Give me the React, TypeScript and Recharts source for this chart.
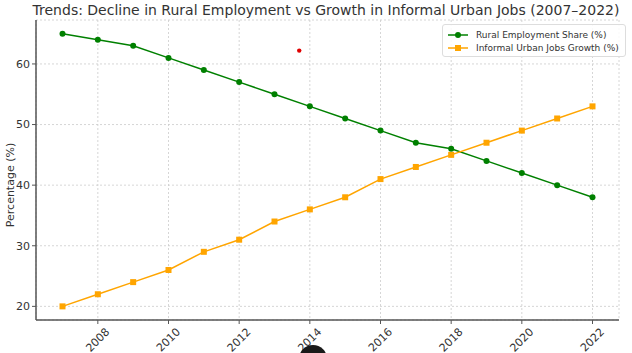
import React from 'react';
import {
  ComposedChart,
  Line,
  Scatter,
  XAxis,
  YAxis,
  CartesianGrid,
} from 'recharts';

const years = [2007, 2008, 2009, 2010, 2011, 2012, 2013, 2014, 2015, 2016, 2017, 2018, 2019, 2020, 2021, 2022];
const ruralShare = [65, 64, 63, 61, 59, 57, 55, 53, 51, 49, 47, 46, 44, 42, 40, 38];
const urbanInformal = [20, 22, 24, 26, 29, 31, 34, 36, 38, 41, 43, 45, 47, 49, 51, 53];
const xTicks = [2008, 2010, 2012, 2014, 2016, 2018, 2020, 2022];
const yTicks = [20, 30, 40, 50, 60];
const strayPoint = [{ year: 2013.7, stray: 62.2 }];

const GREEN = '#008000';
const ORANGE = '#FFA500';
const FONT = '"DejaVu Sans", sans-serif';

const chartData = years.map((year, i) => ({
  year,
  rural: ruralShare[i],
  urban: urbanInformal[i],
}));

// rotated year labels, centred under the tick like matplotlib's rotation=45
const XTick = ({ x, y, payload }: any) => {
  const cy = y + 14;
  return (
    <text
      x={x}
      y={cy}
      transform={`rotate(-45, ${x}, ${cy})`}
      textAnchor="middle"
      dominantBaseline="central"
      fontSize={11}
      fontFamily={FONT}
      fill="#333"
    >
      {payload.value}
    </text>
  );
};

const SquareDot = ({ cx, cy }: any) => {
  if (cx == null || cy == null) return null;
  return <rect x={cx - 3} y={cy - 3} width={6} height={6} fill={ORANGE} />;
};

const RedDot = ({ cx, cy }: any) => <circle cx={cx} cy={cy} r={2.2} fill="#e00000" />;

const LegendBox = () => {
  const items = [
    { label: 'Rural Employment Share (%)', color: GREEN, square: false },
    { label: 'Informal Urban Jobs Growth (%)', color: ORANGE, square: true },
  ];
  return (
    <div
      style={{
        position: 'absolute',
        left: 442,
        top: 24,
        border: '1px solid #ddd',
        borderRadius: 3,
        background: 'rgba(255,255,255,0.85)',
        padding: '3px 6px 2px 4px',
        fontFamily: FONT,
        fontSize: 9,
        color: '#333',
      }}
    >
      {items.map((it) => (
        <div key={it.label} style={{ display: 'flex', alignItems: 'center', height: 13 }}>
          <svg width={22} height={10} style={{ marginRight: 7 }}>
            <line x1={1} y1={5} x2={21} y2={5} stroke={it.color} strokeWidth={1.5} />
            {it.square ? (
              <rect x={8} y={2} width={6} height={6} fill={it.color} />
            ) : (
              <circle cx={11} cy={5} r={3} fill={it.color} />
            )}
          </svg>
          <span>{it.label}</span>
        </div>
      ))}
    </div>
  );
};

export default function App() {
  return (
    <div style={{ position: 'fixed', left: 0, top: 0, width: 632, height: 353, background: '#fff', overflow: 'hidden' }}>
      <ComposedChart
        width={632}
        height={353}
        data={chartData}
        margin={{ top: 20, right: 13, left: 0, bottom: 0 }}
        style={{ position: 'absolute', left: 0, top: 0 }}
      >
        <CartesianGrid stroke="#ccc" strokeDasharray="2 2" strokeWidth={0.8} />
        <XAxis
          dataKey="year"
          type="number"
          domain={[2006.25, 2022.75]}
          ticks={xTicks}
          allowDataOverflow
          height={33}
          tick={<XTick />}
          tickSize={4}
          axisLine={{ stroke: '#555', strokeWidth: 1.5 }}
          tickLine={{ stroke: '#555' }}
        />
        <YAxis
          type="number"
          domain={[17.75, 67.25]}
          ticks={yTicks}
          allowDataOverflow
          width={36}
          tickSize={4}
          tickMargin={2}
          tick={{ fontSize: 11, fill: '#333', fontFamily: FONT }}
          axisLine={{ stroke: '#555', strokeWidth: 1.5 }}
          tickLine={{ stroke: '#555' }}
        />
        <Line
          dataKey="rural"
          stroke={GREEN}
          strokeWidth={1.5}
          dot={{ r: 3, fill: GREEN, stroke: GREEN, strokeWidth: 0 }}
          activeDot={false}
          isAnimationActive={false}
        />
        <Line
          dataKey="urban"
          stroke={ORANGE}
          strokeWidth={1.5}
          dot={<SquareDot />}
          activeDot={false}
          isAnimationActive={false}
        />
        <Scatter data={strayPoint} dataKey="stray" shape={<RedDot />} isAnimationActive={false} legendType="none" />
      </ComposedChart>
      <div
        style={{
          position: 'absolute',
          left: 0,
          top: 2,
          width: 652,
          textAlign: 'center',
          fontFamily: FONT,
          fontSize: 14,
          color: '#333',
          whiteSpace: 'nowrap',
        }}
      >
        Trends: Decline in Rural Employment vs Growth in Informal Urban Jobs (2007–2022)
      </div>
      <div
        style={{
          position: 'absolute',
          left: 10,
          top: 185,
          transform: 'translate(-50%, -50%) rotate(-90deg)',
          fontFamily: FONT,
          fontSize: 11,
          color: '#333',
          whiteSpace: 'nowrap',
        }}
      >
        Percentage (%)
      </div>
      <LegendBox />
      <div
        style={{
          position: 'absolute',
          left: 299,
          top: 345,
          width: 28,
          height: 28,
          borderRadius: '50%',
          background: '#1a1a1a',
        }}
      />
    </div>
  );
}
